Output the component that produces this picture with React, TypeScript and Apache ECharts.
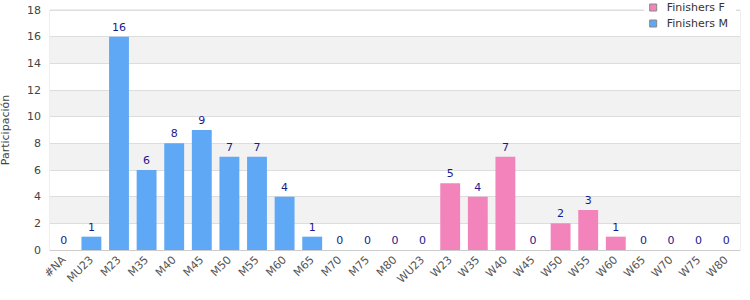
import React, { useEffect, useRef } from "react";
import * as echarts from "echarts";

const categories = ["#NA","MU23","M23","M35","M40","M45","M50","M55","M60","M65","M70","M75","M80","WU23","W23","W35","W40","W45","W50","W55","W60","W65","W70","W75","W80"];
const finishersM = [0,1,16,6,8,9,7,7,4,1,0,0,0,0,0,0,0,0,0,0,0,0,0,0,0];
const finishersF = [0,0,0,0,0,0,0,0,0,0,0,0,0,0,5,4,7,0,2,3,1,0,0,0,0];
const fStartIndex = 14;
const yTicks = [0,2,4,6,8,10,12,14,16,18];

export default function App() {
  const ref = useRef<HTMLDivElement>(null);
  useEffect(() => {
    document.body.style.margin = "0";
    const chart = echarts.init(ref.current!, null, { renderer: "svg" });
    const font = "DejaVu Sans";
    const labelStyle = { show: true, position: "top", color: "#1a1a8c", fontSize: 11, fontFamily: font, distance: 4 };
    chart.setOption({
      animation: false,
      textStyle: { fontFamily: font },
      grid: { left: 50, right: 10, top: 10, bottom: 50, show: true, borderColor: "#ddd", borderWidth: 1, backgroundColor: "transparent", outerBoundsMode: "none", containLabel: false },
      legend: {
        orient: "vertical",
        right: 14,
        top: 1,
        data: ["Finishers F", "Finishers M"],
        icon: "rect",
        itemWidth: 7,
        itemHeight: 7,
        itemGap: 5,
        backgroundColor: "#fff",
        padding: [1, 8, 1, 5],
        itemStyle: { borderColor: "#888", borderWidth: 1 },
        textStyle: { fontSize: 11, fontFamily: font, color: "#333", padding: [0, 0, 0, 5] },
      },
      xAxis: {
        type: "category",
        data: categories,
        axisLine: { show: true, lineStyle: { color: "#ccc" } },
        axisTick: { show: false },
        axisLabel: { rotate: 45, fontSize: 11, color: "#555", fontFamily: font, interval: 0, margin: 8 },
      },
      yAxis: {
        type: "value",
        min: 0,
        max: yTicks[yTicks.length - 1],
        interval: 2,
        name: "Participación",
        nameLocation: "middle",
        nameGap: 39,
        nameTextStyle: { fontSize: 11, color: "#444", fontFamily: font },
        axisLabel: { fontSize: 11, color: "#444", fontFamily: font, margin: 9 },
        axisLine: { show: false },
        axisTick: { show: false },
        splitLine: { show: true, lineStyle: { color: "#ddd" } },
        splitArea: { show: true, areaStyle: { color: ["#fff", "#f2f2f2"] } },
      },
      series: [
        {
          name: "Finishers F",
          type: "bar",
          stack: "total",
          barWidth: "72%",
          itemStyle: { color: "#f283bb" },
          data: finishersF.map((v, i) => ({
            value: v,
            label: { ...labelStyle, show: i >= fStartIndex },
          })),
        },
        {
          name: "Finishers M",
          type: "bar",
          stack: "total",
          barWidth: "72%",
          itemStyle: { color: "#5fa8f5" },
          data: finishersM.map((v, i) => ({
            value: v,
            label: { ...labelStyle, show: i < fStartIndex },
          })),
        },
      ],
    });
    return () => chart.dispose();
  }, []);
  return <div ref={ref} style={{ width: 750, height: 300 }} />;
}
